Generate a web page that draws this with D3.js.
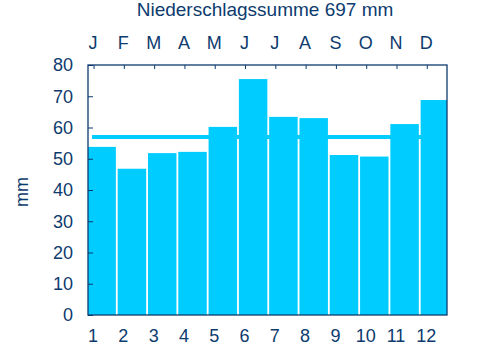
<!DOCTYPE html>
<html><head><meta charset="utf-8">
<script src="https://cdn.jsdelivr.net/npm/d3@7/dist/d3.min.js"></script>
<style>body{margin:0;background:#fff}svg{display:block}text{font-family:"Liberation Sans",Arial,sans-serif;fill:#0d3b6e}</style>
</head><body><svg id="c" width="480" height="360"></svg>
<script>
const months = [1,2,3,4,5,6,7,8,9,10,11,12];
const monthLetters = ["J","F","M","A","M","J","J","A","S","O","N","D"];
const precipitation = [53.8,46.8,51.8,52.2,60.2,75.5,63.4,63.0,51.2,50.7,61.1,68.8];
const meanValue = [57];
const yTicks = [0,10,20,30,40,50,60,70,80];
const titleText = "Niederschlagssumme 697 mm";
const yLabel = "mm";

const svg = d3.select("#c");
const L=88, R=447, T=65, B=315;
const navy="#0d3b6e", cyan="#00ccff";
const x = d3.scaleLinear().domain([0.85,12.7]).range([L,R]);
const y = d3.scaleLinear().domain([0,80]).range([B,T]);

svg.append("defs").append("clipPath").attr("id","clip")
  .append("rect").attr("x",L).attr("y",T).attr("width",R-L).attr("height",B-T);

const plot = svg.append("g").attr("clip-path","url(#clip)");
plot.selectAll("line.mean").data(meanValue).join("line")
  .attr("x1",x(months[0])-0.5).attr("x2",x(months[11]))
  .attr("y1",d=>y(d)).attr("y2",d=>y(d))
  .attr("stroke",cyan).attr("stroke-width",4);
plot.selectAll("rect.bar").data(precipitation).join("rect")
  .attr("x",(d,i)=>x(months[i]-0.17))
  .attr("width",(d,i)=>x(months[i]+0.77)-x(months[i]-0.17))
  .attr("y",d=>y(d)).attr("height",d=>B-y(d))
  .attr("fill",cyan);

const ya = d3.axisLeft(y).tickValues(yTicks).tickSize(-5).tickPadding(15).tickFormat(d3.format("d"));
const gy = svg.append("g").attr("transform",`translate(${L},0)`).call(ya);
gy.select(".domain").remove();
gy.selectAll("line").attr("stroke",navy);
gy.selectAll("text").style("font-size","18px").attr("fill",navy);

const xa = d3.axisBottom(x).tickValues(months).tickSize(0).tickPadding(14).tickFormat(d3.format("d"));
const gx = svg.append("g").attr("transform",`translate(0,${B})`).call(xa);
gx.select(".domain").remove();
gx.selectAll("text").style("font-size","18px").attr("fill",navy);

const ta = d3.axisTop(x).tickValues(months).tickSize(0).tickPadding(16).tickFormat((d,i)=>monthLetters[i]);
const gt = svg.append("g").attr("transform",`translate(0,${T})`).call(ta);
gt.select(".domain").remove();
gt.selectAll("text").style("font-size","18px").attr("fill",navy);
svg.selectAll("line.tt").data(months).join("line")
  .attr("x1",d=>x(d)+1.5).attr("x2",d=>x(d)+1.5).attr("y1",T).attr("y2",T+4)
  .attr("stroke",navy).attr("stroke-width",1);

svg.append("rect").attr("x",L).attr("y",T).attr("width",R-L).attr("height",B-T)
  .attr("fill","none").attr("stroke",navy).attr("stroke-width",1.3);

svg.append("text").attr("x",265).attr("y",16).attr("text-anchor","middle")
  .style("font-size","19px").text(titleText);
svg.append("text").attr("transform","translate(28,192) rotate(-90)").attr("text-anchor","middle")
  .style("font-size","18px").text(yLabel);
</script></body></html>
